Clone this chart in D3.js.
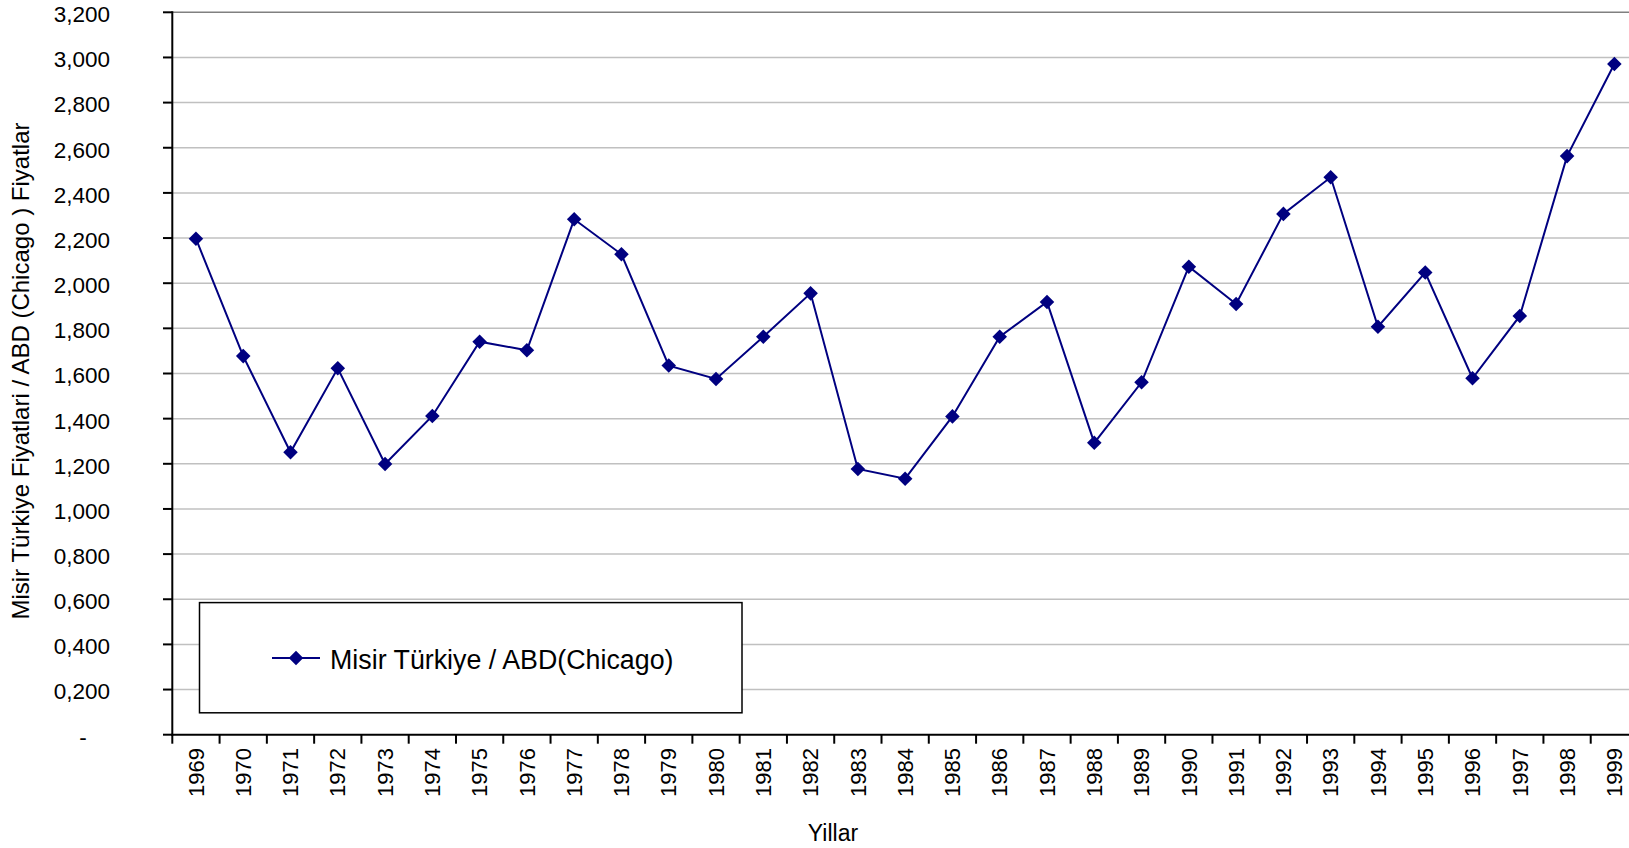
<!DOCTYPE html>
<html>
<head>
<meta charset="utf-8">
<script src="https://cdn.jsdelivr.net/npm/d3@7"></script>
<style>
  body { margin: 0; background: #fff; }
  svg { display: block; font-family: "Liberation Sans", Arial, sans-serif; }
</style>
</head>
<body>
<svg></svg>
<script>
// Data
const years = ["1969","1970","1971","1972","1973","1974","1975","1976","1977","1978",
  "1979","1980","1981","1982","1983","1984","1985","1986","1987","1988",
  "1989","1990","1991","1992","1993","1994","1995","1996","1997","1998","1999"];
const ratio = [2.197, 1.677, 1.251, 1.623, 1.199, 1.412, 1.741, 1.703, 2.283, 2.128,
  1.635, 1.576, 1.763, 1.955, 1.177, 1.134, 1.410, 1.763, 1.917, 1.293,
  1.561, 2.073, 1.908, 2.307, 2.469, 1.807, 2.047, 1.579, 1.855, 2.563, 2.971];
const yTicks = [0, 0.2, 0.4, 0.6, 0.8, 1.0, 1.2, 1.4, 1.6, 1.8, 2.0, 2.2, 2.4, 2.6, 2.8, 3.0, 3.2];
const yTickLabels = ["-", "0,200", "0,400", "0,600", "0,800", "1,000", "1,200", "1,400", "1,600",
  "1,800", "2,000", "2,200", "2,400", "2,600", "2,800", "3,000", "3,200"];
const seriesName = "Misir Türkiye / ABD(Chicago)";
const yTitle = "Misir Türkiye Fiyatlari / ABD (Chicago ) Fiyatlar";
const xTitle = "Yillar";

const width = 1629, height = 848;
const svg = d3.select("svg").attr("width", width).attr("height", height);

// Plot area runs past the right edge of the picture, as in the original
const x = d3.scaleBand().domain(years).range([172.3, 1638]).padding(0);
const y = d3.scaleLinear().domain([0, 3.2]).range([734.7, 12.3]);
const navy = "#000080";

// gridlines
svg.append("g")
  .selectAll("line")
  .data(yTicks.filter(d => d > 0 && d < 3.2))
  .enter().append("line")
  .attr("x1", 172.3).attr("x2", width)
  .attr("y1", d => y(d)).attr("y2", d => y(d))
  .attr("stroke", "#c0c0c0").attr("stroke-width", 1.5);

// plot area top border
svg.append("line")
  .attr("x1", 172.3).attr("x2", width)
  .attr("y1", y(3.2)).attr("y2", y(3.2))
  .attr("stroke", "#808080").attr("stroke-width", 1.5);

// y axis
svg.append("line")
  .attr("x1", 172.3).attr("x2", 172.3)
  .attr("y1", y(3.2) - 1).attr("y2", y(0) + 1)
  .attr("stroke", "#000").attr("stroke-width", 2);

svg.append("g")
  .selectAll("line")
  .data(yTicks)
  .enter().append("line")
  .attr("x1", 163).attr("x2", 172.3)
  .attr("y1", d => y(d)).attr("y2", d => y(d))
  .attr("stroke", "#000").attr("stroke-width", 2);

svg.append("g")
  .selectAll("text")
  .data(yTicks)
  .enter().append("text")
  .attr("x", d => d === 0 ? 83 : 110)
  .attr("y", d => y(d) + 2)
  .attr("dy", "0.35em")
  .attr("text-anchor", d => d === 0 ? "middle" : "end")
  .attr("font-size", 22.5)
  .attr("fill", "#000")
  .text((d, i) => yTickLabels[i]);

// x axis
svg.append("line")
  .attr("x1", 171.3).attr("x2", width)
  .attr("y1", y(0)).attr("y2", y(0))
  .attr("stroke", "#000").attr("stroke-width", 2);

svg.append("g")
  .selectAll("line")
  .data(years)
  .enter().append("line")
  .attr("x1", d => x(d)).attr("x2", d => x(d))
  .attr("y1", y(0)).attr("y2", y(0) + 9)
  .attr("stroke", "#000").attr("stroke-width", 2);

svg.append("g")
  .selectAll("text")
  .data(years)
  .enter().append("text")
  .attr("transform", d => `translate(${x(d) + x.bandwidth() / 2},748) rotate(-90)`)
  .attr("text-anchor", "end")
  .attr("dy", "0.35em")
  .attr("font-size", 22)
  .attr("fill", "#000")
  .text(d => d);

// axis titles
svg.append("text")
  .attr("x", 833).attr("y", 841)
  .attr("text-anchor", "middle")
  .attr("font-size", 23)
  .text(xTitle);

svg.append("text")
  .attr("transform", "translate(29,371) rotate(-90)")
  .attr("text-anchor", "middle")
  .attr("font-size", 24)
  .text(yTitle);

// series line
const line = d3.line()
  .x((d, i) => x(years[i]) + x.bandwidth() / 2)
  .y(d => y(d));

svg.append("path")
  .datum(ratio)
  .attr("d", line)
  .attr("fill", "none")
  .attr("stroke", navy)
  .attr("stroke-width", 2);

const diamond = d3.symbol().type(d3.symbolDiamond2).size(135);

svg.append("g")
  .selectAll("path")
  .data(ratio)
  .enter().append("path")
  .attr("d", diamond)
  .attr("transform", (d, i) => `translate(${x(years[i]) + x.bandwidth() / 2},${y(d)})`)
  .attr("fill", navy);

// legend
const legend = svg.append("g");
legend.append("rect")
  .attr("x", 199.5).attr("y", 602.6)
  .attr("width", 542.5).attr("height", 110.2)
  .attr("fill", "#fff").attr("stroke", "#000").attr("stroke-width", 1.5);
legend.append("line")
  .attr("x1", 272).attr("x2", 320)
  .attr("y1", 658).attr("y2", 658)
  .attr("stroke", navy).attr("stroke-width", 2);
legend.append("path")
  .attr("d", diamond)
  .attr("transform", "translate(296,658)")
  .attr("fill", navy);
legend.append("text")
  .attr("x", 330).attr("y", 660)
  .attr("dy", "0.35em")
  .attr("font-size", 26.8)
  .text(seriesName);
</script>
</body>
</html>
